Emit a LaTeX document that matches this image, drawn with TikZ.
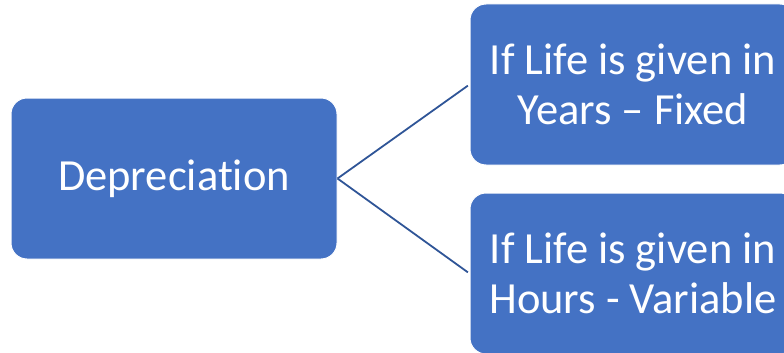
\documentclass[tikz,border=0pt]{standalone}
\usepackage{fontspec}
\setmainfont[Ligatures={NoCommon,NoContextual}]{Carlito}
\definecolor{boxblue}{HTML}{4472C4}
\definecolor{linkblue}{HTML}{2F5597}
\begin{document}
\begin{tikzpicture}[x=1pt,y=-1pt,
  box/.style={fill=boxblue, draw=white, line width=1pt, rounded corners=16pt,
    minimum width=326pt, minimum height=161pt, text=white,
    font=\fontsize{44.5}{50}\selectfont, align=center, inner sep=0pt},
  link/.style={draw=linkblue, line width=1.8pt}]
\useasboundingbox (0,0) rectangle (784,353);
\clip (0,0) rectangle (784,353);
\node[box] (dep) at (174,178.5) {Depreciation};
\node[box] (yrs) at (633,84.5) {If Life is given in\\Years – Fixed};
\node[box] (hrs) at (633,273.5) {If Life is given in\\Hours - Variable};
\draw[link, shorten >=2pt] (dep.east) -- (yrs.west);
\draw[link, shorten >=2pt] (dep.east) -- (hrs.west);
\end{tikzpicture}
\end{document}
